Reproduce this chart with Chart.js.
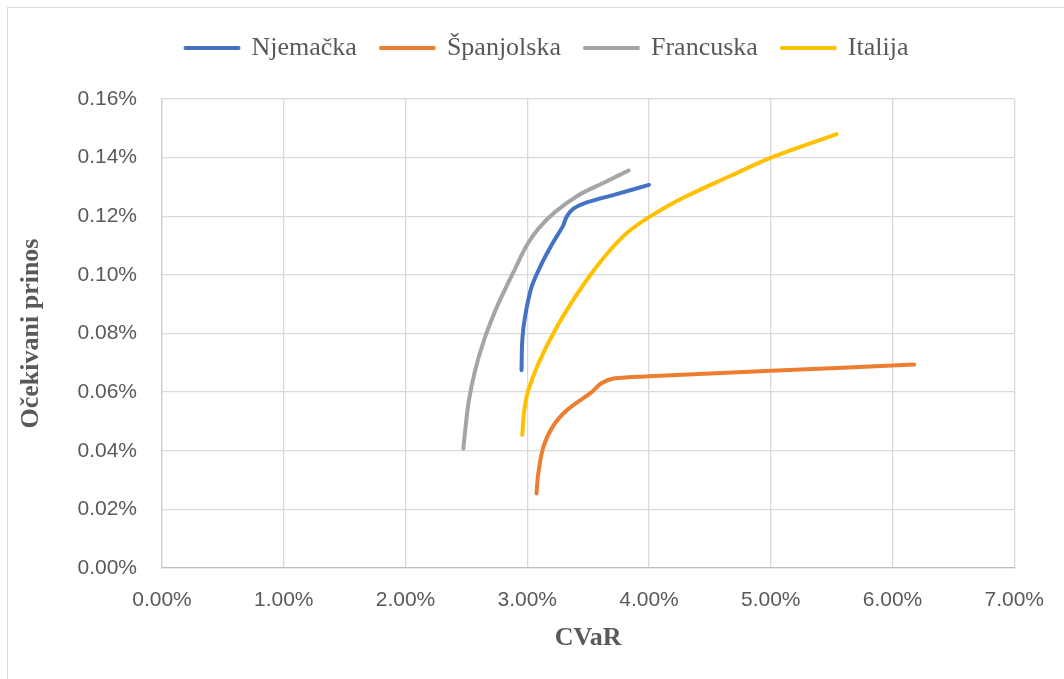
<!DOCTYPE html>
<html>
<head>
<meta charset="utf-8">
<script src="https://cdn.jsdelivr.net/npm/chart.js@4"></script>
<style>
  html, body { margin: 0; padding: 0; background: #fff; overflow: hidden; }
  #frame { position: absolute; left: 7px; top: 7px; width: 1100px; height: 800px; border: 1px solid #d9d9d9; }
  #wrap { position: absolute; left: 0; top: 0; width: 1064px; height: 679px; }
</style>
</head>
<body>
<div id="frame"></div>
<div id="wrap"><canvas id="chartCVaR"></canvas></div>
<script>
// Podaci očitani sa slike (CVaR i očekivani prinos, u %)
const njemackaX = [2.953, 2.959, 2.981, 3.035, 3.117, 3.213, 3.295, 3.322, 3.377, 3.473, 3.719, 4.0];
const njemackaY = [0.0675, 0.0776, 0.0855, 0.0958, 0.1037, 0.1111, 0.1168, 0.1197, 0.1225, 0.1245, 0.1274, 0.1307];

const spanjolskaX = [3.076, 3.090, 3.131, 3.213, 3.336, 3.527, 3.609, 3.719, 4.0, 5.003, 6.178];
const spanjolskaY = [0.0254, 0.0320, 0.0411, 0.0485, 0.0542, 0.0599, 0.0630, 0.0647, 0.0654, 0.0673, 0.0694];

const francuskaX = [2.475, 2.516, 2.571, 2.653, 2.762, 2.899, 2.995, 3.090, 3.227, 3.418, 3.637, 3.833];
const francuskaY = [0.0408, 0.0559, 0.0673, 0.0787, 0.0901, 0.1020, 0.1100, 0.1157, 0.1214, 0.1271, 0.1316, 0.1356];

const italijaX = [2.959, 2.975, 3.008, 3.090, 3.227, 3.391, 3.555, 3.691, 3.828, 4.0, 4.265, 4.675, 5.003, 5.541];
const italijaY = [0.0454, 0.0536, 0.0605, 0.0696, 0.0810, 0.0923, 0.1020, 0.1089, 0.1146, 0.1197, 0.1260, 0.1339, 0.1400, 0.1480];

const seriesNames = ['Njemačka', 'Španjolska', 'Francuska', 'Italija'];
const seriesColors = ['#4472C4', '#ED7D31', '#A5A5A5', '#FFC000'];

// Osi
const xMin = 0, xMax = 7, xStep = 1;
const yMin = 0, yMax = 0.16, yStep = 0.02;
const xTitle = 'CVaR';
const yTitle = 'Očekivani prinos';

const TEXT = '#595959';

function toPoints(xs, ys) {
    return xs.map((x, i) => ({ x: x, y: ys[i] }));
}

const allX = [njemackaX, spanjolskaX, francuskaX, italijaX];
const allY = [njemackaY, spanjolskaY, francuskaY, italijaY];

const datasets = seriesNames.map((name, i) => ({
    label: name,
    data: toPoints(allX[i], allY[i]),
    borderColor: seriesColors[i],
    backgroundColor: seriesColors[i],
    borderWidth: 4,
    borderCapStyle: 'round',
    borderJoinStyle: 'round',
    showLine: true,
    pointRadius: 0,
    tension: 0.3
}));

// Malo pomjeranje legende (visina i centriranje kao u Excelu)
const legendPlacement = {
    id: 'legendPlacement',
    beforeInit(chart) {
        const leg = chart.legend;
        if (leg && !leg._wrapped) {
            const fit = leg.fit;
            leg.fit = function () { fit.call(this); this.height += 28; };
            leg._wrapped = true;
        }
    },
    afterLayout(chart) {
        chart.legend.left += 37;
        chart.legend.right += 37;
    }
};

const ctx = document.getElementById('chartCVaR').getContext('2d');
new Chart(ctx, {
    type: 'scatter',
    data: { datasets: datasets },
    plugins: [legendPlacement],
    options: {
        responsive: true,
        maintainAspectRatio: false,
        animation: false,
        layout: { padding: { top: 11, right: 44, bottom: 0, left: 0 } },
        plugins: {
            legend: {
                position: 'top',
                labels: {
                    color: TEXT,
                    font: { family: 'Liberation Serif', size: 26 },
                    boxWidth: 53,
                    boxHeight: 0,
                    padding: 24
                }
            },
            tooltip: { enabled: false }
        },
        scales: {
            x: {
                type: 'linear',
                min: xMin, max: xMax,
                afterFit: s => { s.height = 111; },
                ticks: {
                    stepSize: xStep,
                    color: TEXT,
                    padding: 20,
                    font: { family: 'Liberation Sans', size: 21 },
                    callback: v => v.toFixed(2) + '%'
                },
                grid: { color: '#d9d9d9', lineWidth: 1.3, drawTicks: false },
                border: { color: '#bfbfbf', width: 1.3 },
                title: {
                    display: true,
                    text: xTitle,
                    color: TEXT,
                    font: { family: 'Liberation Serif', size: 26, weight: 'bold' },
                    padding: { top: 0, bottom: 25 }
                }
            },
            y: {
                type: 'linear',
                min: yMin, max: yMax,
                afterFit: s => { s.width = 162; },
                ticks: {
                    stepSize: yStep,
                    color: TEXT,
                    padding: 25,
                    font: { family: 'Liberation Sans', size: 21 },
                    callback: v => v.toFixed(2) + '%'
                },
                grid: { color: '#d9d9d9', lineWidth: 1.3, drawTicks: false },
                border: { color: '#d0d0d0', width: 1.3 },
                title: {
                    display: true,
                    text: yTitle,
                    color: TEXT,
                    font: { family: 'Liberation Serif', size: 26, weight: 'bold' },
                    padding: { top: 16, bottom: 0 }
                }
            }
        }
    }
});
</script>
</body>
</html>
